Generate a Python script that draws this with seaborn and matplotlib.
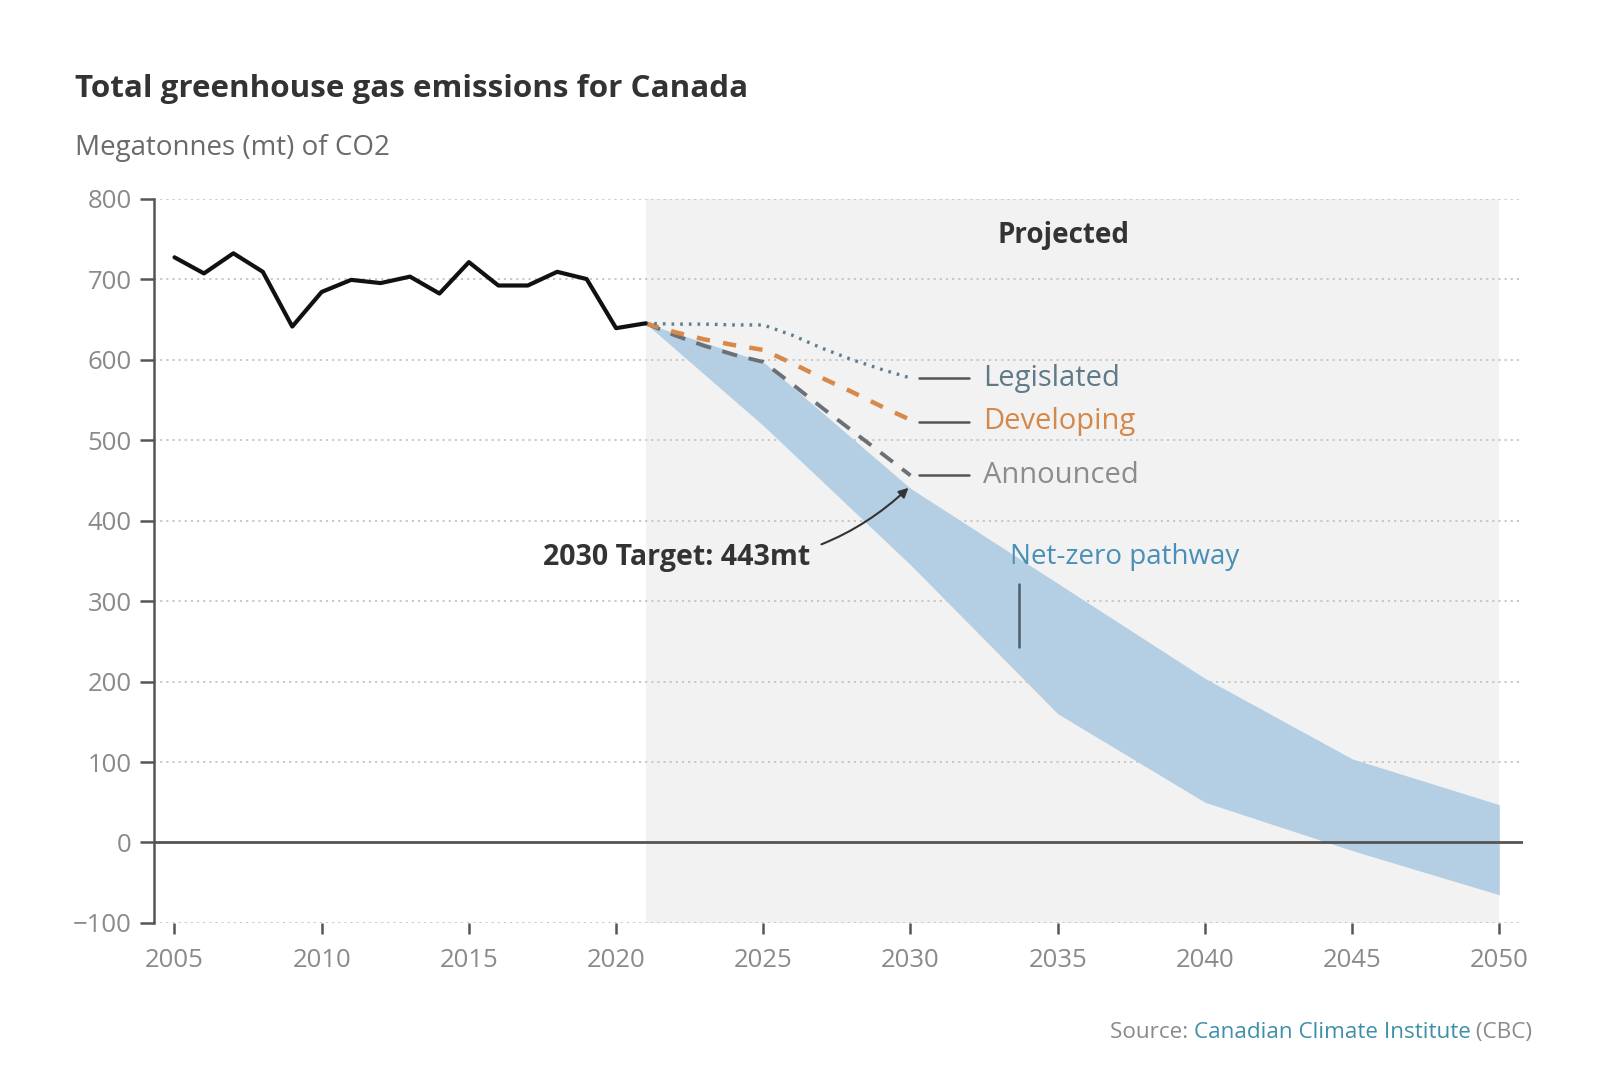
import numpy as np
import pandas as pd
import matplotlib
matplotlib.use("Agg")
import matplotlib.pyplot as plt
import seaborn as sns

# ---------------- data ----------------
hist_years = list(range(2005, 2022))
hist_values = [727, 707, 732, 709, 641, 684, 699, 695, 703, 682, 721, 692, 692, 709, 700, 639, 645]

proj_years = list(range(2021, 2031))
legislated = [645, 644, 644, 643, 643, 630, 614, 600, 588, 577]
developing = [645, 634, 625, 618, 612, 595, 577, 560, 542, 525]
announced = [645, 630, 617, 606, 597, 569, 540, 512, 484, 456]

band_years = [2021, 2025, 2030, 2035, 2040, 2045, 2050]
band_upper = [645, 597, 440, 322, 204, 104, 47]
band_lower = [645, 518, 345, 160, 50, -10, -65]

target_year = 2030
target_value = 443

x_ticks = list(range(2005, 2051, 5))
y_ticks = list(range(-100, 801, 100))

title = "Total greenhouse gas emissions for Canada"
subtitle = "Megatonnes (mt) of CO2"

# ---------------- style ----------------
sns.set_theme(style="white")
plt.rcParams["font.family"] = ["Open Sans", "DejaVu Sans"]

fig = plt.figure(figsize=(16.03, 10.91), dpi=100)
ax = fig.add_axes([0.096, 0.154, 0.854, 0.664])

ax.axvspan(2021, 2050, color="#f2f2f2", zorder=0, lw=0)

ax.set_ylim(-100, 800)
ax.set_xlim(2004.3, 2050.8)
ax.set_yticks(y_ticks)
ax.set_xticks(x_ticks)
ax.yaxis.grid(True, linestyle=(0, (1.2, 2.2)), color="#c4c4c4", lw=1.3, zorder=1)
ax.set_axisbelow(True)

ax.fill_between(band_years, band_lower, band_upper, color="#b4cfe4", lw=0, zorder=2)

ax.axhline(0, color="#555555", lw=2, zorder=3)

df_hist = pd.DataFrame({"year": hist_years, "value": hist_values})
sns.lineplot(data=df_hist, x="year", y="value", ax=ax, color="#111111", lw=3, zorder=5)

df_leg = pd.DataFrame({"year": proj_years, "value": legislated})
df_dev = pd.DataFrame({"year": proj_years, "value": developing})
df_ann = pd.DataFrame({"year": proj_years, "value": announced})
sns.lineplot(data=df_ann, x="year", y="value", ax=ax, color="#6c7075", lw=2.8,
             linestyle=(0, (4, 3)), zorder=4)
sns.lineplot(data=df_dev, x="year", y="value", ax=ax, color="#d8894a", lw=3.2,
             linestyle=(0, (3, 3)), zorder=4)
sns.lineplot(data=df_leg, x="year", y="value", ax=ax, color="#5b7f95", lw=2.4,
             linestyle=(0, (0.8, 1.8)), zorder=4)

# spines / ticks
for s in ["top", "right", "bottom"]:
    ax.spines[s].set_visible(False)
ax.spines["left"].set_color("#555555")
ax.spines["left"].set_linewidth(1.8)
ax.tick_params(axis="y", direction="out", length=10, width=1.8, color="#555555",
               labelsize=18.5, labelcolor="#8a8a8a", pad=6, left=True)
ax.tick_params(axis="x", direction="out", length=8, width=1.8, color="#555555",
               labelsize=18.5, labelcolor="#8a8a8a", pad=10, bottom=True)
ax.set_xlabel("")
ax.set_ylabel("")

# series labels with leader lines
labels = [("Legislated", legislated[-1], "#5f7a88"),
          ("Developing", developing[-1] - 2, "#d4884a"),
          ("Announced", announced[-1], "#8c8c8c")]
for txt, yv, col in labels:
    ax.plot([2030.3, 2032.0], [yv, yv], color="#555555", lw=1.8, zorder=6)
    ax.text(2032.45, yv, txt, color=col, fontsize=21, va="center", ha="left", zorder=6)

ax.text(2035.2, 754, "Projected", fontsize=20, fontweight="bold", color="#333333",
        ha="center", va="center")

ax.annotate("2030 Target: 443mt", xy=(target_year, target_value), xytext=(2026.6, 354),
            fontsize=20.5, fontweight="bold", color="#333333", ha="right", va="center",
            arrowprops=dict(arrowstyle="-|>", color="#333333", lw=1.5,
                            connectionstyle="arc3,rad=0.25", shrinkA=6, shrinkB=2,
                            mutation_scale=14), zorder=7)

ax.text(2033.37, 355, "Net-zero pathway", fontsize=20, color="#4a8fb5",
        ha="left", va="center", zorder=7)
ax.plot([2033.67, 2033.67], [243, 321], color="#4d5d6a", lw=1.8, zorder=7)

# title and subtitle
fig.text(0.047, 0.918, title, fontsize=22.6, fontweight="bold", color="#333333",
         ha="left", va="center")
fig.text(0.047, 0.864, subtitle, fontsize=20, color="#6a6a6a", ha="left", va="center")

# source
src_y = 0.054
t1 = fig.text(0.956, src_y, " (CBC)", fontsize=16.2, color="#8a8a8a", ha="right", va="center")
fig.canvas.draw()
r = fig.canvas.get_renderer()
bb = t1.get_window_extent(r)
x2 = bb.x0 / fig.bbox.width
t2 = fig.text(x2, src_y, "Canadian Climate Institute", fontsize=16.2, color="#3f8fa8",
              ha="right", va="center")
bb2 = t2.get_window_extent(r)
x3 = bb2.x0 / fig.bbox.width
fig.text(x3, src_y, "Source: ", fontsize=16.2, color="#8a8a8a", ha="right", va="center")

fig.savefig("out.png", dpi=100, facecolor="white")
